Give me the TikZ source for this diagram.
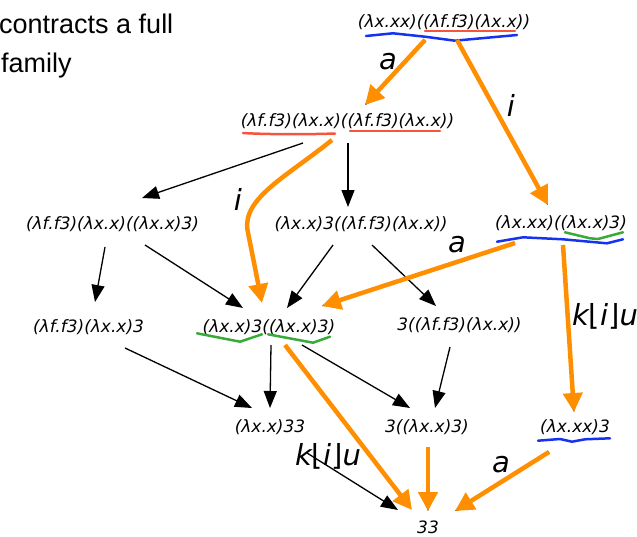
\documentclass[tikz,border=0pt]{standalone}
\usepackage{fontspec}
\newfontfamily\djv{DejaVu Sans}
\newfontfamily\lib{Liberation Sans}
\usetikzlibrary{arrows.meta,calc}
\definecolor{orng}{RGB}{255,143,0}
\definecolor{redl}{RGB}{245,85,60}
\definecolor{bluel}{RGB}{20,50,240}
\definecolor{greenl}{RGB}{55,170,55}
\begin{document}
\begin{tikzpicture}[x=1pt,y=-1pt,
  term/.style={anchor=base,inner sep=0pt,font=\djv\itshape\fontsize{17}{20}\selectfont},
  lab/.style={inner sep=0pt,font=\djv\itshape\fontsize{29}{34}\selectfont},
  capt/.style={anchor=base west,inner sep=0pt,font=\lib\fontsize{27}{30}\selectfont},
  blk/.style={line width=1.3pt,-{Triangle[length=17pt,width=13pt]}},
  oarrow/.style={line width=4.5pt,draw=orng,-{Triangle[length=19pt,width=19pt]}},
  uline/.style={line width=2.5pt,line cap=round,line join=round}]
\useasboundingbox (0,0) rectangle (637,536);

% caption
\node[capt] (cap1) at (-1,33) {contracts a full};
\node[capt] (cap2) at (1,72) {family};

% terms
\node[term] (t)   at (444,27)   {(λx.xx)((λf.f3)(λx.x))};
\node[term] (n1)  at (347.5,126) {(λf.f3)(λx.x)((λf.f3)(λx.x))};
\node[term] (n2)  at (112.5,229) {(λf.f3)(λx.x)((λx.x)3)};
\node[term] (n3)  at (361,229)  {(λx.x)3((λf.f3)(λx.x))};
\node[term] (n4)  at (561,228)  {(λx.xx)((λx.x)3)};
\node[term] (n5)  at (88.5,332) {(λf.f3)(λx.x)3};
\node[term] (n6)  at (269,332)  {(λx.x)3((λx.x)3)};
\node[term] (n7)  at (459.5,330) {3((λf.f3)(λx.x))};
\node[term] (n8)  at (270,432)  {(λx.x)33};
\node[term] (n9)  at (427,432)  {3((λx.x)3)};
\node[term] (n10) at (575,432)  {(λx.xx)3};
\node[term] (n11) at (428,533)  {33};

% underlines
\draw[uline,redl] ([shift={(-19,4)}]t.base) -- ([shift={(71,4)}]t.base);
\draw[uline,bluel] ([shift={(-78,9)}]t.base) -- ([shift={(-51,6.3)}]t.base)
  -- ([shift={(-19,9.7)}]t.base) -- ([shift={(11,13.7)}]t.base)
  -- ([shift={(26,12.3)}]t.base) -- ([shift={(73,8)}]t.base);
\draw[uline,redl] ([shift={(-104.5,7)}]n1.base) .. controls ([shift={(-80,8.5)}]n1.base) and ([shift={(-40,8.5)}]n1.base) .. ([shift={(-12.5,7.5)}]n1.base);
\draw[uline,redl] ([shift={(2.5,5)}]n1.base) -- ([shift={(92.5,5)}]n1.base);
\draw[uline,greenl] ([shift={(4,4.3)}]n4.base) -- ([shift={(29,10.3)}]n4.base)
  -- ([shift={(37,11)}]n4.base) -- ([shift={(62,4.3)}]n4.base);
\draw[uline,bluel] ([shift={(-64,13.7)}]n4.base) -- ([shift={(-38,9.3)}]n4.base)
  -- ([shift={(2,11.3)}]n4.base) -- ([shift={(46,15.3)}]n4.base) -- ([shift={(62,11.3)}]n4.base);
\draw[uline,greenl] ([shift={(-72,1.3)}]n6.base) -- ([shift={(-29,9.7)}]n6.base) -- ([shift={(-7,2.3)}]n6.base);
\draw[uline,greenl] ([shift={(-1,2.3)}]n6.base) -- ([shift={(44,10.7)}]n6.base) -- ([shift={(61,4.7)}]n6.base);
\draw[uline,bluel] ([shift={(-37,8.7)}]n10.base) -- ([shift={(-15,7)}]n10.base)
  -- ([shift={(-3,9.7)}]n10.base) -- ([shift={(10,7.3)}]n10.base) -- ([shift={(35,6.3)}]n10.base);

% black arrows
\draw[blk] ([shift={(-44.5,17)}]n1.base) -- ([shift={(29.5,-31)}]n2.base);
\draw[blk] ([shift={(0.5,17)}]n1.base) -- ([shift={(-13,-22)}]n3.base);
\draw[blk] ([shift={(-7.5,18)}]n2.base) -- ([shift={(6.5,-30)}]n5.base);
\draw[blk] ([shift={(32.5,16)}]n2.base) -- ([shift={(-26,-24)}]n6.base);
\draw[blk] ([shift={(-28,16)}]n3.base) -- ([shift={(18,-24)}]n6.base);
\draw[blk] ([shift={(11,16)}]n3.base) -- ([shift={(-23.5,-24)}]n7.base);
\draw[blk] ([shift={(36.5,16)}]n5.base) -- ([shift={(-18,-24)}]n8.base);
\draw[blk] ([shift={(2,13)}]n6.base) -- ([shift={(0,-24)}]n8.base);
\draw[blk] ([shift={(33,13)}]n6.base) -- ([shift={(-17,-24)}]n9.base);
\draw[blk] ([shift={(-9.5,17)}]n7.base) -- ([shift={(8,-24)}]n9.base);
\draw[blk] ([shift={(37,21)}]n8.base) -- ([shift={(-30,-23)}]n11.base);
% black arrows below orange ones
\draw[blk] ([shift={(-19,13)}]t.base) -- ([shift={(17.5,-21)}]n1.base);
\draw[blk] ([shift={(13,13)}]t.base) -- ([shift={(-13,-23)}]n4.base);
\draw[blk] ([shift={(-46,15)}]n4.base) -- ([shift={(53,-26)}]n6.base);
\draw[blk] ([shift={(2,17)}]n4.base) -- ([shift={(-1,-20)}]n10.base);
\draw[blk] ([shift={(1,15)}]n9.base) -- ([shift={(0,-22)}]n11.base);
\draw[blk] ([shift={(-26,20)}]n10.base) -- ([shift={(27,-22)}]n11.base);

% orange arrows
\draw[oarrow] ([shift={(-19,13)}]t.base) -- ([shift={(17.5,-21)}]n1.base);
\draw[oarrow] ([shift={(13,13)}]t.base) -- ([shift={(-13,-23)}]n4.base);
\draw[oarrow] ([shift={(-15.5,14)}]n1.base) .. controls ([shift={(-60,50)}]n1.base) and ([shift={(-105,72)}]n1.base) .. ([shift={(-100,104)}]n1.base) -- ([shift={(-7,-29)}]n6.base);
\draw[oarrow] ([shift={(-46,15)}]n4.base) -- ([shift={(53,-26)}]n6.base);
\draw[oarrow] ([shift={(2,17)}]n4.base) -- ([shift={(-1,-20)}]n10.base);
\draw[oarrow] ([shift={(16,13)}]n6.base) -- ([shift={(-16,-23)}]n11.base);
\draw[oarrow] ([shift={(1,15)}]n9.base) -- ([shift={(0,-22)}]n11.base);
\draw[oarrow] ([shift={(-26,20)}]n10.base) -- ([shift={(27,-22)}]n11.base);

% labels
\node[lab] (la1) at (388,62) {a};
\node[lab] (li1) at (511,105) {i};
\node[lab] (li2) at (238,199) {i};
\node[lab] (la2) at (457,245) {a};
\node[lab] (lk1) at (605,316) {k{\upshape ⌊}i{\upshape ⌋}u};
\node[lab] (lk2) at (328,456) {k{\upshape ⌊}i{\upshape ⌋}u};
\node[lab] (la3) at (501,465) {a};
\end{tikzpicture}
\end{document}
